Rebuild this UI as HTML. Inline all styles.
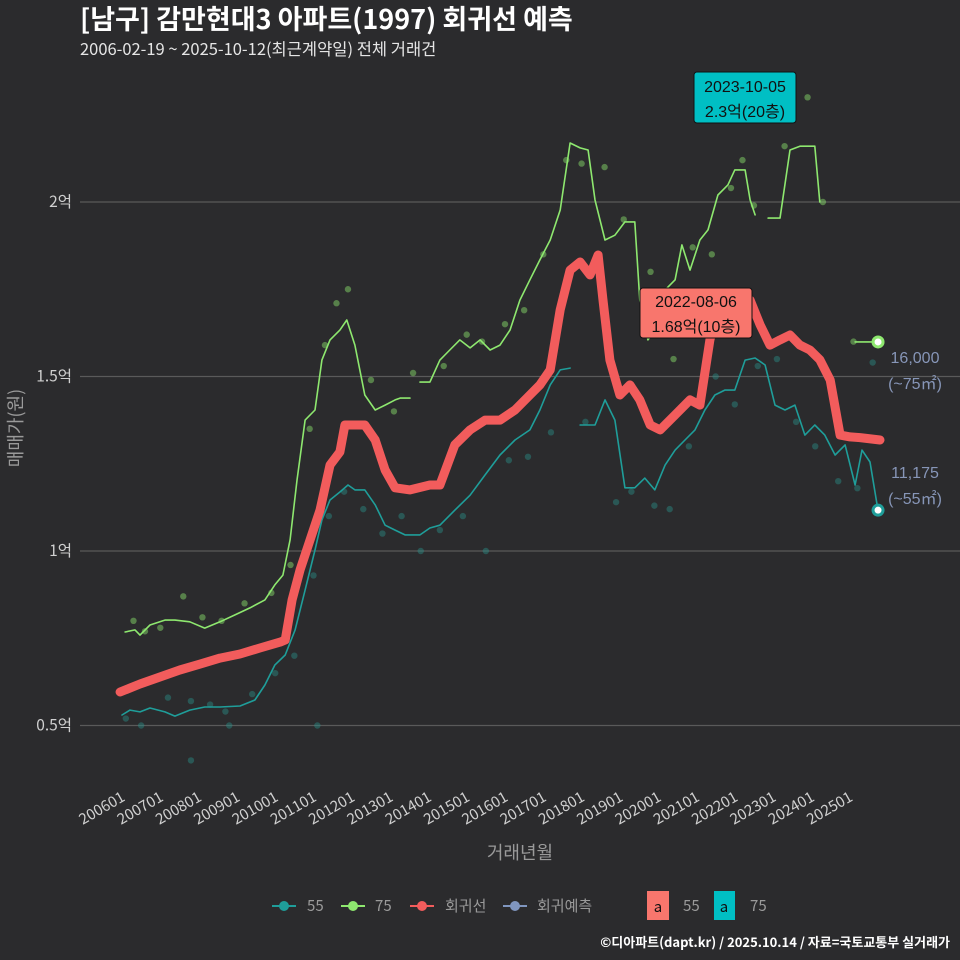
<!DOCTYPE html>
<html><head><meta charset="utf-8"><style>
html,body{margin:0;padding:0;background:#2b2b2d;}
svg{display:block;font-family:"Noto Sans CJK KR","Liberation Sans",sans-serif;}
.lib{font-family:"Liberation Sans","Noto Sans CJK KR",sans-serif;}
</style></head><body>
<svg id="chart" width="960" height="960" viewBox="0 0 960 960">
<rect x="0" y="0" width="960" height="960" fill="#2b2b2d"/>
<text x="80" y="29" fill="#ffffff" font-size="27" font-weight="bold">[남구] 감만현대3 아파트(1997) 회귀선 예측</text>
<text x="80" y="55" fill="#e6e6e6" font-size="16.5">2006-02-19 ~ 2025-10-12(최근계약일) 전체 거래건</text>
<g id="grid"></g>
<g id="yticks"></g>
<g id="xticks"></g>
<g id="dots"></g>
<g id="lines"></g>
<text x="520" y="859" fill="#9a9a9a" font-size="18" text-anchor="middle">거래년월</text>
<text transform="translate(22,428) rotate(-90)" fill="#9a9a9a" font-size="18" text-anchor="middle">매매가(원)</text>
<g class="lib">
<rect x="694" y="72" width="102" height="51" rx="3" fill="#00bfc4" stroke="#111" stroke-width="1"/>
<text x="745" y="92" font-size="16" text-anchor="middle" fill="#111">2023-10-05</text>
<text x="745" y="117" font-size="16" text-anchor="middle" fill="#111">2.3억(20층)</text>
</g>
<g class="lib">
<rect x="640" y="288" width="112" height="50" rx="3" fill="#f8766d" stroke="#111" stroke-width="1"/>
<text x="696" y="307" font-size="16" text-anchor="middle" fill="#111">2022-08-06</text>
<text x="696" y="332" font-size="16" text-anchor="middle" fill="#111">1.68억(10층)</text>
</g>
<g class="lib">
<text x="915" y="363" fill="#8796b8" font-size="16" text-anchor="middle">16,000</text>
<text x="915" y="389" fill="#8796b8" font-size="16" text-anchor="middle">(~75㎡)</text>
<text x="915" y="478" fill="#8796b8" font-size="16" text-anchor="middle">11,175</text>
<text x="915" y="504" fill="#8796b8" font-size="16" text-anchor="middle">(~55㎡)</text>
</g>
<g font-size="15" fill="#9a9a9a">
<g><line x1="272" y1="906" x2="296" y2="906" stroke="#1f9e9a" stroke-width="2"/><circle cx="284" cy="906" r="5" fill="#1f9e9a"/><text x="307" y="911">55</text></g>
<g><line x1="341" y1="906" x2="365" y2="906" stroke="#8ee86f" stroke-width="2"/><circle cx="353" cy="906" r="5" fill="#8ee86f"/><text x="375" y="911">75</text></g>
<g><line x1="410" y1="906" x2="434" y2="906" stroke="#f25c5c" stroke-width="2"/><circle cx="422" cy="906" r="5" fill="#f25c5c"/><text x="445" y="911">회귀선</text></g>
<g><line x1="503" y1="906" x2="527" y2="906" stroke="#8096bf" stroke-width="2"/><circle cx="515" cy="906" r="5" fill="#8096bf"/><text x="537" y="911">회귀예측</text></g>
<g><rect x="647" y="891" width="22" height="29" fill="#f8766d"/><text x="658" y="912" text-anchor="middle" fill="#111">a</text><text x="683" y="911">55</text></g>
<g><rect x="714" y="891" width="21" height="29" fill="#00bfc4"/><text x="724" y="912" text-anchor="middle" fill="#111">a</text><text x="750" y="911">75</text></g>
</g>
<text x="950" y="947" fill="#ffffff" font-size="13" font-weight="bold" text-anchor="end">©디아파트(dapt.kr) / 2025.10.14 / 자료=국토교통부 실거래가</text>
</svg>
<script>
const yTicks=[0.5,1,1.5,2];
const yTickLabels=["0.5억","1억","1.5억","2억"];
const xTickYears=[2006,2007,2008,2009,2010,2011,2012,2013,2014,2015,2016,2017,2018,2019,2020,2021,2022,2023,2024,2025];
const xTickLabels=["200601","200701","200801","200901","201001","201101","201201","201301","201401","201501","201601","201701","201801","201901","202001","202101","202201","202301","202401","202501"];
const regYears=[2005.95,2006.47,2006.99,2007.51,2008.04,2008.56,2009.08,2009.60,2010.13,2010.26,2010.44,2010.65,2010.91,2011.17,2011.43,2011.69,2011.82,2012.08,2012.34,2012.61,2012.87,2013.13,2013.52,2014.04,2014.30,2014.69,2015.09,2015.48,2015.87,2016.26,2016.65,2016.91,2017.18,2017.44,2017.70,2017.96,2018.22,2018.43,2018.56,2018.74,2019.00,2019.26,2019.52,2019.79,2020.05,2020.44,2020.83,2021.09,2021.35,2021.61,2021.87,2022.14,2022.40,2022.66,2022.92,2023.18,2023.44,2023.70,2023.96,2024.22,2024.49,2024.75,2025.01,2025.27,2025.79];
const regValues=[0.596,0.619,0.639,0.659,0.676,0.693,0.705,0.722,0.739,0.745,0.860,0.946,1.032,1.117,1.246,1.284,1.361,1.361,1.361,1.318,1.232,1.181,1.175,1.189,1.189,1.304,1.347,1.375,1.375,1.404,1.447,1.476,1.519,1.691,1.805,1.828,1.791,1.848,1.719,1.547,1.447,1.476,1.433,1.361,1.347,1.390,1.433,1.418,1.605,1.719,1.705,1.690,1.719,1.648,1.590,1.605,1.619,1.590,1.576,1.548,1.490,1.332,1.327,1.325,1.318];
const s75Years=[2006.08,2006.34,2006.47,2006.73,2007.12,2007.38,2007.77,2008.16,2008.56,2008.95,2009.34,2009.73,2009.99,2010.20,2010.39,2010.57,2010.78,2011.04,2011.22,2011.43,2011.69,2011.87,2012.08,2012.34,2012.61,2012.87,2013.13,2013.26,2013.52,null,2013.78,2014.04,2014.30,2014.56,2014.82,2015.09,2015.35,2015.61,2015.87,2016.13,2016.39,2016.65,2016.91,2017.18,2017.44,2017.70,2017.96,2018.17,2018.35,2018.61,2018.87,2019.13,2019.39,2019.52,2019.73,2019.91,2020.18,2020.44,2020.62,2020.83,2021.09,2021.30,2021.56,2021.82,2022.00,2022.27,2022.40,2022.53,null,2022.87,2023.18,2023.44,2023.70,2024.09,2024.22,null,2025.14,2025.74];
const s75Values=[0.768,0.774,0.759,0.788,0.802,0.802,0.797,0.779,0.797,0.817,0.837,0.860,0.903,0.931,1.032,1.203,1.375,1.404,1.547,1.605,1.633,1.662,1.590,1.447,1.404,1.418,1.433,1.438,1.438,null,1.484,1.484,1.547,1.576,1.605,1.582,1.605,1.576,1.590,1.633,1.719,1.777,1.834,1.891,1.977,2.169,2.155,2.149,2.006,1.891,1.905,1.943,1.943,1.719,1.605,1.633,1.748,1.777,1.877,1.805,1.891,1.920,2.020,2.049,2.092,2.092,2.006,1.963,null,1.954,1.954,2.149,2.160,2.160,2.000,null,1.599,1.599];
const s55Years=[2006.00,2006.21,2006.47,2006.73,2007.12,2007.38,2007.77,2008.16,2008.56,2009.08,2009.47,2009.73,2009.99,2010.26,2010.52,2010.78,2011.04,2011.22,2011.43,2011.69,2011.90,2012.08,2012.34,2012.61,2012.87,2013.13,2013.39,2013.78,2014.04,2014.30,2014.69,2015.09,2015.48,2015.87,2016.26,2016.65,2016.91,2017.18,2017.44,2017.70,null,2017.96,2018.35,2018.61,2018.87,2019.13,2019.39,2019.65,2019.91,2020.18,2020.44,2020.70,2020.96,2021.22,2021.48,2021.74,2022.00,2022.27,2022.53,2022.79,2023.05,2023.31,2023.57,2023.83,2024.09,2024.35,2024.62,2024.88,2025.14,2025.32,2025.53,2025.74];
const s55Values=[0.530,0.544,0.539,0.550,0.539,0.527,0.544,0.553,0.553,0.556,0.573,0.616,0.673,0.702,0.774,0.888,1.003,1.089,1.146,1.169,1.189,1.175,1.175,1.132,1.074,1.060,1.046,1.046,1.066,1.074,1.117,1.160,1.218,1.275,1.318,1.347,1.404,1.476,1.519,1.524,null,1.361,1.361,1.433,1.375,1.181,1.181,1.209,1.175,1.246,1.289,1.318,1.347,1.404,1.447,1.461,1.461,1.547,1.553,1.533,1.418,1.404,1.418,1.332,1.361,1.332,1.275,1.304,1.189,1.289,1.255,1.117];
const dot75Years=[2006.3,2006.6,2007.0,2007.6,2008.1,2008.6,2009.2,2009.9,2010.4,2010.9,2011.3,2011.6,2011.9,2012.5,2013.1,2013.6,2014.4,2015.0,2015.4,2016.0,2016.5,2017.0,2017.6,2018.0,2018.6,2019.1,2019.8,2020.4,2020.9,2021.4,2021.9,2022.2,2022.5,2023.3,2023.9,2024.3,2025.1];
const dot75Values=[0.80,0.77,0.78,0.87,0.81,0.80,0.85,0.88,0.96,1.35,1.59,1.71,1.75,1.49,1.40,1.51,1.53,1.62,1.60,1.65,1.69,1.85,2.12,2.11,2.10,1.95,1.80,1.55,1.87,1.85,2.04,2.12,1.99,2.16,2.30,2.00,1.60];
const dot55Years=[2006.1,2006.5,2007.2,2007.8,2008.3,2008.8,2009.4,2010.0,2010.5,2011.0,2011.4,2011.8,2012.3,2012.8,2013.3,2013.8,2014.3,2014.9,2015.5,2016.1,2016.6,2017.2,2018.1,2018.9,2019.3,2019.9,2020.3,2020.8,2021.5,2022.0,2022.6,2023.1,2023.6,2024.1,2024.7,2025.2,2025.6,2007.8,2008.7,2011.1];
const dot55Values=[0.52,0.50,0.58,0.40,0.56,0.50,0.59,0.65,0.70,0.93,1.10,1.17,1.12,1.05,1.10,1.00,1.06,1.10,1.00,1.26,1.27,1.34,1.37,1.14,1.17,1.13,1.12,1.30,1.50,1.42,1.53,1.55,1.37,1.30,1.20,1.18,1.54,0.57,0.54,0.50];
const NS="http://www.w3.org/2000/svg";
function xs(yr){return 122+(yr-2006)*38.3;}
function ys(v){return 202+(2-v)*349;}
function mk(tag,parent){const e=document.createElementNS(NS,tag);document.getElementById(parent).appendChild(e);return e;}
yTicks.forEach((t,i)=>{
  const l=mk('line','grid');l.setAttribute('x1',80);l.setAttribute('x2',960);l.setAttribute('y1',ys(t));l.setAttribute('y2',ys(t));l.setAttribute('stroke','#5a5a5a');l.setAttribute('stroke-width','1.2');
  
  
  const tx=mk('text','yticks');tx.setAttribute('x',72);tx.setAttribute('y',ys(t)+5);tx.setAttribute('text-anchor','end');tx.setAttribute('fill','#d0d0d0');tx.setAttribute('font-size','15.5');tx.textContent=yTickLabels[i];
  
  
});
xTickYears.forEach((yr,i)=>{
  const x=xs(yr);
  const tx=mk('text','xticks');tx.setAttribute('transform','translate('+(x+4)+',800) rotate(-30)');tx.setAttribute('text-anchor','end');tx.setAttribute('fill','#d0d0d0');tx.setAttribute('font-size','15');tx.textContent=xTickLabels[i];
  
  
});
function dots(years,vals,color,name){
  years.forEach((yr,i)=>{const c=mk('circle','dots');c.setAttribute('cx',xs(yr));c.setAttribute('cy',ys(vals[i]));c.setAttribute('r',3.2);c.setAttribute('fill',color);c.setAttribute('opacity','0.45');
  
  });
}
dots(dot55Years,dot55Values,'#2a8f88','point-55');
dots(dot75Years,dot75Values,'#8ee86f','point-75');
function path(years,vals){let d='',pen=false;years.forEach((yr,i)=>{if(yr===null){pen=false;return;}d+=(pen?'L':'M')+xs(yr).toFixed(1)+','+ys(vals[i]).toFixed(1);pen=true;});return d;}
function line(years,vals,color,w,name){const p=mk('path','lines');p.setAttribute('d',path(years,vals));p.setAttribute('fill','none');p.setAttribute('stroke',color);p.setAttribute('stroke-width',w);p.setAttribute('stroke-linejoin','round');p.setAttribute('stroke-linecap','round');
  
  }
line(s55Years,s55Values,'#1f9e9a',1.6,'line-55');
line(s75Years,s75Values,'#8ee86f',1.6,'line-75');
line(regYears,regValues,'#f25c5c',9,'regression-line');
function endPt(yr,v,color,name){const c=mk('circle','lines');c.setAttribute('cx',xs(yr));c.setAttribute('cy',ys(v));c.setAttribute('r',5);c.setAttribute('fill','#fff');c.setAttribute('stroke',color);c.setAttribute('stroke-width',3);
  
  }
endPt(s75Years[s75Years.length-1],s75Values[s75Values.length-1],'#8ee86f','end-point-75');
endPt(s55Years[s55Years.length-1],s55Values[s55Values.length-1],'#1f9e9a','end-point-55');
</script>
</body></html>
